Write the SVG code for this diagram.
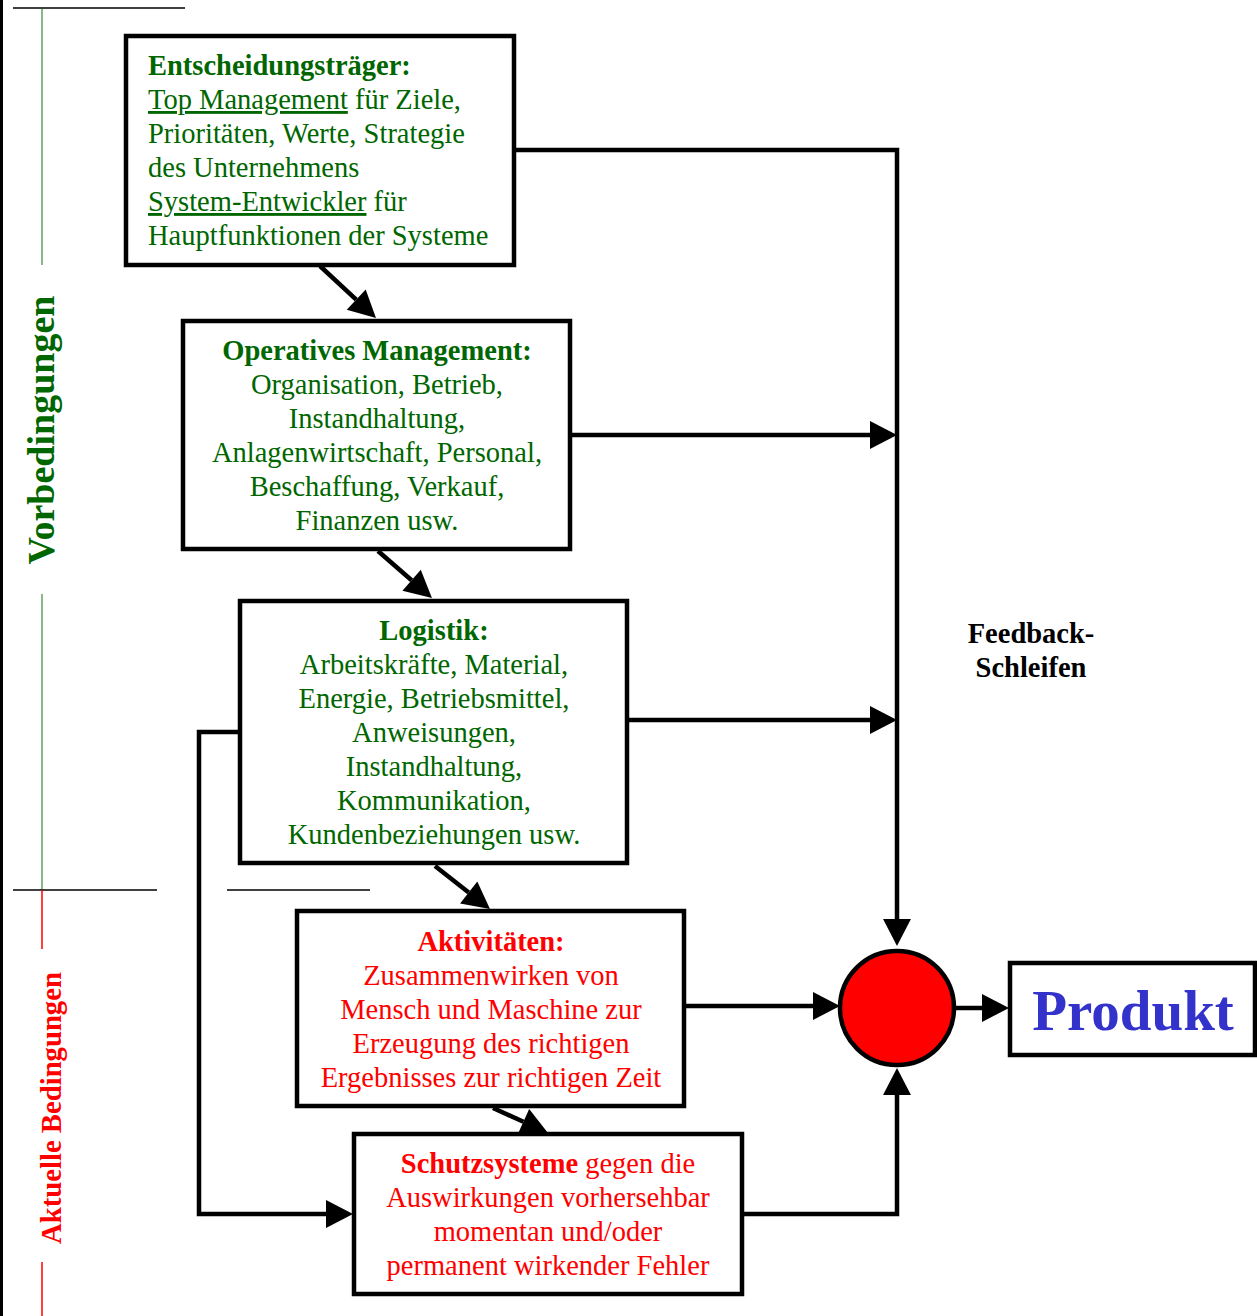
<svg xmlns="http://www.w3.org/2000/svg" width="1257" height="1316" viewBox="0 0 1257 1316">
<style>
.box{fill:#fff;stroke:#000;stroke-width:4.5}
.t{font-family:"Liberation Serif","Times New Roman",serif;font-size:28.5px}
.g{fill:#006600}
.r{fill:#ff0000}
.b{font-weight:bold}
.c{text-anchor:middle}
.ln{fill:none;stroke:#000;stroke-width:4.5}
</style>
<defs>
<marker id="ah" markerWidth="6" markerHeight="6.2" refX="0" refY="3.1" orient="auto" markerUnits="strokeWidth" overflow="visible">
<path d="M0,0 L6,3.1 L0,6.2 z" fill="#000"/>
</marker>
</defs>
<rect width="1257" height="1316" fill="#fff"/>
<g id="margin">
<line x1="1.5" y1="0" x2="1.5" y2="1316" stroke="#000" stroke-width="3"/>
<line x1="13" y1="8" x2="185" y2="8" stroke="#000" stroke-width="1.5"/>
<line x1="42" y1="9" x2="42" y2="265" stroke="#5fa05f" stroke-width="1.5"/>
<line x1="42" y1="594" x2="42" y2="890" stroke="#5fa05f" stroke-width="1.5"/>
<line x1="13" y1="890" x2="157" y2="890" stroke="#000" stroke-width="1.5"/>
<line x1="227" y1="890" x2="370" y2="890" stroke="#000" stroke-width="1.5"/>
<line x1="42" y1="890" x2="42" y2="949" stroke="#ff0000" stroke-width="1.5"/>
<line x1="42" y1="1262" x2="42" y2="1316" stroke="#ff0000" stroke-width="1.5"/>
<text class="t g b c" style="font-size:38px" transform="translate(54,430) rotate(-90)">Vorbedingungen</text>
<text class="t r b c" style="font-size:28.7px" transform="translate(61,1108) rotate(-90)">Aktuelle Bedingungen</text>
</g>
<g id="connectors">
<polyline class="ln" points="514,150 897,150 897,919" marker-end="url(#ah)"/>
<line class="ln" x1="570" y1="435" x2="870" y2="435" marker-end="url(#ah)"/>
<line class="ln" x1="627" y1="720" x2="870" y2="720" marker-end="url(#ah)"/>
<line class="ln" x1="684" y1="1006" x2="813" y2="1006" marker-end="url(#ah)"/>
<polyline class="ln" points="742,1214 897,1214 897,1095" marker-end="url(#ah)"/>
<line class="ln" x1="955" y1="1008" x2="982" y2="1008" marker-end="url(#ah)"/>
<polyline class="ln" points="240,732 199,732 199,1214 326,1214" marker-end="url(#ah)"/>
<line class="ln" x1="320" y1="266" x2="356.2" y2="299.6" marker-end="url(#ah)"/>
<line class="ln" x1="378" y1="551" x2="411.6" y2="580.3" marker-end="url(#ah)"/>
<line class="ln" x1="435" y1="866" x2="468.7" y2="892.4" marker-end="url(#ah)"/>
<line class="ln" x1="493" y1="1108" x2="523.4" y2="1121.8" marker-end="url(#ah)"/>
</g>
<g id="n1">
<rect class="box" x="126" y="36" width="388" height="229"/>
<text class="t g" x="148" y="75"><tspan class="b">Entscheidungsträger:</tspan></text>
<text class="t g" x="148" y="109"><tspan text-decoration="underline">Top Management</tspan> für Ziele,</text>
<text class="t g" x="148" y="143">Prioritäten, Werte, Strategie</text>
<text class="t g" x="148" y="177">des Unternehmens</text>
<text class="t g" x="148" y="211"><tspan text-decoration="underline">System-Entwickler</tspan> für</text>
<text class="t g" x="148" y="245">Hauptfunktionen der Systeme</text>
</g>
<g id="n2">
<rect class="box" x="183" y="321" width="387" height="228"/>
<text class="t g b c" x="377" y="360">Operatives Management:</text>
<text class="t g c" x="377" y="394">Organisation, Betrieb,</text>
<text class="t g c" x="377" y="428">Instandhaltung,</text>
<text class="t g c" x="377" y="462">Anlagenwirtschaft, Personal,</text>
<text class="t g c" x="377" y="496">Beschaffung, Verkauf,</text>
<text class="t g c" x="377" y="530">Finanzen usw.</text>
</g>
<g id="n3">
<rect class="box" x="240" y="601" width="387" height="262"/>
<text class="t g b c" x="434" y="640">Logistik:</text>
<text class="t g c" x="434" y="674">Arbeitskräfte, Material,</text>
<text class="t g c" x="434" y="708">Energie, Betriebsmittel,</text>
<text class="t g c" x="434" y="742">Anweisungen,</text>
<text class="t g c" x="434" y="776">Instandhaltung,</text>
<text class="t g c" x="434" y="810">Kommunikation,</text>
<text class="t g c" x="434" y="844">Kundenbeziehungen usw.</text>
</g>
<g id="n4">
<rect class="box" x="297" y="911" width="387" height="195"/>
<text class="t r b c" x="491" y="951">Aktivitäten:</text>
<text class="t r c" x="491" y="985">Zusammenwirken von</text>
<text class="t r c" x="491" y="1019">Mensch und Maschine zur</text>
<text class="t r c" x="491" y="1053">Erzeugung des richtigen</text>
<text class="t r c" x="491" y="1087">Ergebnisses zur richtigen Zeit</text>
</g>
<g id="n5">
<rect class="box" x="354" y="1134" width="388" height="160"/>
<text class="t r c" x="548" y="1173"><tspan class="b">Schutzsysteme</tspan> gegen die</text>
<text class="t r c" x="548" y="1207">Auswirkungen vorhersehbar</text>
<text class="t r c" x="548" y="1241">momentan und/oder</text>
<text class="t r c" x="548" y="1275">permanent wirkender Fehler</text>
</g>
<g id="feedback">
<text class="t b c" x="1031" y="643" fill="#000">Feedback-</text>
<text class="t b c" x="1031" y="677" fill="#000">Schleifen</text>
</g>
<g id="circle">
<circle cx="897" cy="1008" r="57" fill="#ff0000" stroke="#000" stroke-width="4.5"/>
</g>
<g id="produkt">
<rect class="box" x="1010" y="963" width="245" height="92"/>
<text class="t b c" x="1133" y="1030" style="font-size:57px;fill:#3333cc">Produkt</text>
</g>
</svg>
